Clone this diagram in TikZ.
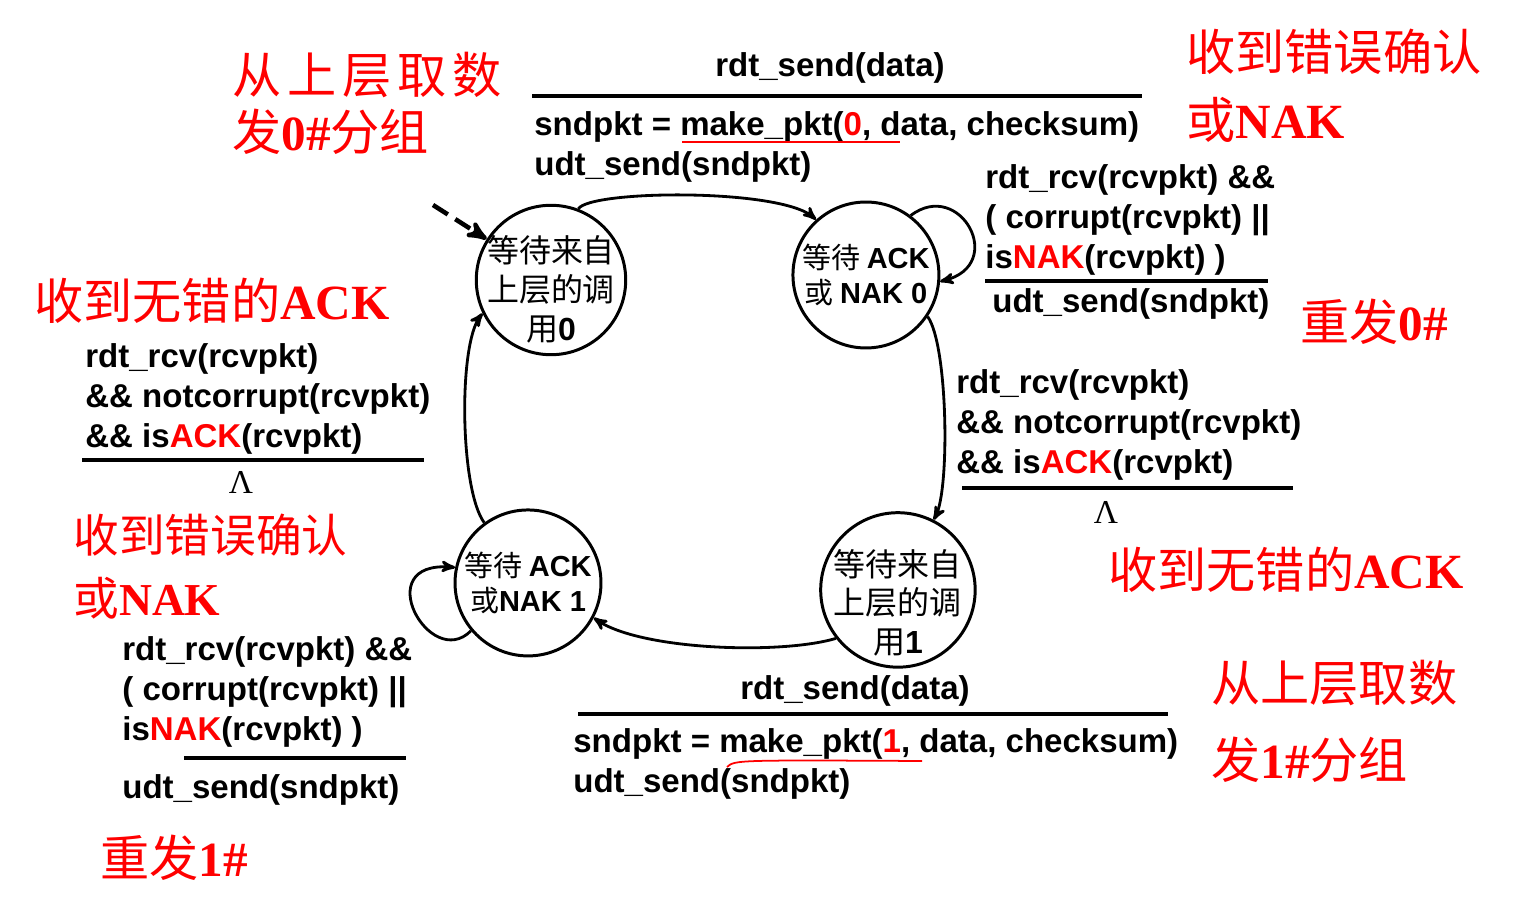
\documentclass[tikz,border=0pt]{standalone}
\usepackage{fontspec}
\setmainfont{Liberation Sans}
\newfontfamily\cjk{Noto Sans CJK SC}
\newfontfamily\tnr{Liberation Serif}
\usetikzlibrary{arrows,shapes,positioning}
\definecolor{annot}{RGB}{255,0,0}
\newcommand{\hl}[1]{{\color{annot}#1}}
\newcommand{\rb}[1]{{\tnr\bfseries #1}}
\newcommand{\lat}[1]{{\rmfamily\bfseries #1}}

\begin{document}
\begin{tikzpicture}[x=0.02cm,y=-0.02cm,->,>=stealth',node distance=6.3cm,
  fsm/.style={draw,circle,line width=1.7pt,minimum size=2.92cm,inner sep=-6pt,align=center,font=\fontsize{18.2}{22}\selectfont\cjk},
  acknode/.style={fsm,font=\fontsize{16.5}{20}\selectfont\cjk},
  cond/.style={anchor=west,inner sep=0pt,align=left,font=\fontsize{18.8}{22.8}\selectfont\bfseries},
  note/.style={anchor=west,inner sep=0pt,text=annot,font=\fontsize{28}{32}\selectfont\cjk},
  lam/.style={inner sep=0pt,font=\fontsize{19}{20}\selectfont\tnr},
  bar/.style={-,line width=2.6pt},
  redline/.style={-,annot,line width=1pt},
  move/.style={line width=1.6pt}]
             \fill[white] (0,0) rectangle (1516,918);
             \useasboundingbox (0,0) rectangle (1516,918);
             % states
             \node[fsm] (s0) at (551,280) {\rule{0pt}{26pt}等待来自\\上层的调\\用\lat{0}};
             \node[acknode] (ack0) [right of=s0, yshift=0.1cm] {等待 \lat{ACK}\\或 \lat{NAK 0}};
             \node[fsm] (s1) [below of=ack0, xshift=0.64cm] {\rule{0pt}{30pt}等待来自\\上层的调\\用\lat{1}};
             \node[acknode] (ack1) [below of=s0, xshift=-0.46cm, yshift=0.24cm] {等待 \lat{ACK}\\或\lat{NAK 1}};
             \coordinate (init) at (433,205);
             % transitions
             \draw[move,line width=2.6pt,dash pattern=on 10pt off 5pt] (init) -- (s0);
             \draw[move] (s0.69) .. controls (590,190) and (780,188) .. (ack0.132);
             \draw[move] (ack0.53) .. controls (960,178) and (1008,265) .. (ack0.-5);
             \draw[move] (ack0.-34) .. controls (948,345) and (950,490) .. (s1.63);
             \draw[move] (s1.218) .. controls (780,655) and (640,650) .. (ack1.-28);
             \draw[move] (ack1.126) .. controls (460,490) and (458,345) .. (s0.206);
             \draw[move] (ack1.220) .. controls (430,672) and (368,560) .. (ack1.168);
             % s0 -> ack0
             \node[cond,anchor=center] (tsend) at (830,68) {rdt\_send(data)};
             \draw[bar] (532,96) -- (1142,96);
             \node[cond] (tact) at (534,146.5) {sndpkt = make\_pkt(\hl{0}, data, checksum)\\udt\_send(sndpkt)};
             \draw[redline] (682,142) -- (900,142);
             % ack0 -> ack0
             \node[cond] (rcond0) at (985,220) {rdt\_rcv(rcvpkt) \&\&\\( corrupt(rcvpkt) ||\\is\hl{NAK}(rcvpkt) )};
             \draw[bar] (985,281) -- (1268,281);
             \node[cond] (ract0) at (992,304) {udt\_send(sndpkt)};
             % ack0 -> s1
             \node[cond] (rack0) at (956,425) {rdt\_rcv(rcvpkt)\\\&\& notcorrupt(rcvpkt)\\\&\& is\hl{ACK}(rcvpkt)};
             \draw[bar] (962,488) -- (1293,488);
             \node[lam] (rlam) at (1106,512) {Λ};
             % ack1 -> s0
             \node[cond] (lack1) at (85,399) {rdt\_rcv(rcvpkt)\\\&\& notcorrupt(rcvpkt)\\\&\& is\hl{ACK}(rcvpkt)};
             \draw[bar] (82,460) -- (424,460);
             \node[lam] (llam) at (241,482) {Λ};
             % ack1 -> ack1
             \node[cond] (lcond1) at (122,692) {rdt\_rcv(rcvpkt) \&\&\\( corrupt(rcvpkt) ||\\is\hl{NAK}(rcvpkt) )};
             \draw[bar] (184,758) -- (406,758);
             \node[cond] (lact1) at (122,790) {udt\_send(sndpkt)};
             % s1 -> ack1
             \node[cond,anchor=center] (bsend) at (855,691) {rdt\_send(data)};
             \draw[bar] (578,714) -- (1168,714);
             \node[cond] (bact) at (573,763.5) {sndpkt = make\_pkt(\hl{1}, data, checksum)\\udt\_send(sndpkt)};
             \draw[redline] (727,767) .. controls (735,760) .. (922,761);
             % red notes
             \node[note] (n0a) at (232,75) {从\hspace{3.4pt}上\hspace{3.4pt}层\hspace{3.4pt}取\hspace{3.4pt}数};
             \node[note] (n0b) at (232,132) {发\rb{0\#}分组};
             \node[note] (n1a) at (1186,52) {收到错误确认};
             \node[note] (n1b) at (1186,120) {或\rb{NAK}};
             \node[note] (n2) at (34,301) {收到无错的\rb{ACK}};
             \node[note] (n3) at (1300,322) {重发\rb{0\#}};
             \node[note,font=\fontsize{26}{30}\selectfont\cjk] (n4a) at (73,535) {收到错误确认};
             \node[note,font=\fontsize{26}{30}\selectfont\cjk] (n4b) at (73,598) {或\rb{NAK}};
             \node[note] (n5) at (1108,570) {收到无错的\rb{ACK}};
             \node[note] (n6a) at (1211,683) {从上层取数};
             \node[note] (n6b) at (1211,760) {发\rb{1\#}分组};
             \node[note] (n7) at (100,858) {重发\rb{1\#}};
\end{tikzpicture}
\end{document}
